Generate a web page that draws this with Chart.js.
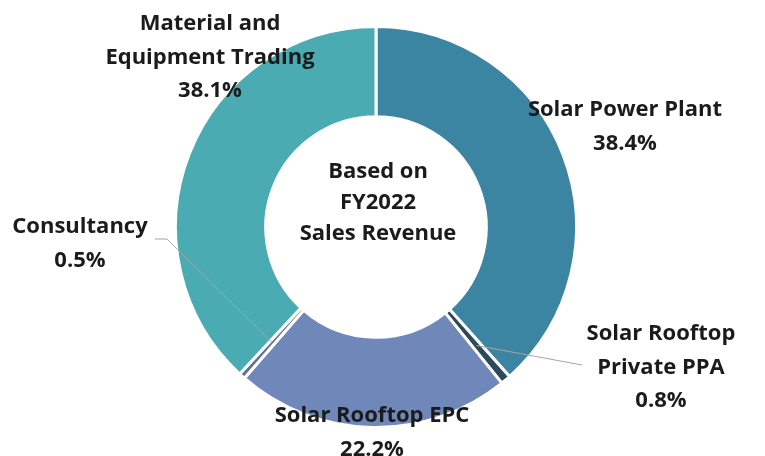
<!DOCTYPE html>
<html>
<head>
<meta charset="utf-8">
<script src="https://cdn.jsdelivr.net/npm/chart.js@4/dist/chart.umd.min.js"></script>
<style>
  body { margin: 0; background: #ffffff; }
  #wrap { width: 765px; height: 456px; position: relative; }
</style>
</head>
<body>
<div id="wrap"><canvas id="revenue-chart"></canvas></div>
<script>
const segments = ["Solar Power Plant", "Solar Rooftop Private PPA", "Solar Rooftop EPC", "Consultancy", "Material and Equipment Trading"];
const shares = [38.4, 0.8, 22.2, 0.5, 38.1];
const labelLines = [
    ["Solar Power Plant"],
    ["Solar Rooftop", "Private PPA"],
    ["Solar Rooftop EPC"],
    ["Consultancy"],
    ["Material and", "Equipment Trading"]
];
const centerLines = ["Based on", "FY2022", "Sales Revenue"];
const colors = ["#3b85a2", "#2c4a5b", "#6f88b9", "#63708f", "#4aabb2"];

// label anchor (top line centre) relative to the chart centre
const labelOffsets = [[249, -117], [285, 107], [-4, 189], [-296, 0], [-166, -203]];
const lineGap = 33.5;
const textFont = "bold 22px 'Open Sans'";

document.addEventListener("DOMContentLoaded", function() {
    const ctx = document.getElementById("revenue-chart").getContext("2d");

    const labelPlugin = {
        id: "labels",
        afterDatasetsDraw(chart) {
            const c = chart.ctx;
            const arcs = chart.getDatasetMeta(0).data;
            const cx = arcs[0].x, cy = arcs[0].y;

            // leader lines for the two thin slices
            c.save();
            c.strokeStyle = "#a6a6a6";
            c.lineWidth = 1;
            const ppa = arcs[1].getCenterPoint();
            c.beginPath();
            c.moveTo(ppa.x, ppa.y);
            c.lineTo(cx + 206, cy + 138);
            c.stroke();
            const con = arcs[3].getCenterPoint();
            c.beginPath();
            c.moveTo(con.x, con.y);
            c.lineTo(cx - 209, cy + 12);
            c.lineTo(cx - 221, cy + 12);
            c.stroke();
            c.restore();

            c.save();
            c.fillStyle = "#1b1b1b";
            c.font = textFont;
            c.textAlign = "center";
            c.textBaseline = "middle";
            labelLines.forEach(function(lines, i) {
                const x = cx + labelOffsets[i][0];
                let y = cy + labelOffsets[i][1];
                lines.concat([shares[i].toFixed(1) + "%"]).forEach(function(t) {
                    c.fillText(t, x, y);
                    y += lineGap;
                });
            });
            let y = cy - 55;
            centerLines.forEach(function(t) {
                c.fillText(t, cx + 2, y);
                y += 31;
            });
            c.restore();
        }
    };

    new Chart(ctx, {
        type: "doughnut",
        data: {
            labels: segments,
            datasets: [{
                data: shares,
                backgroundColor: colors,
                borderColor: "#ffffff",
                borderWidth: 3,
                hoverOffset: 0
            }]
        },
        options: {
            responsive: true,
            maintainAspectRatio: false,
            animation: false,
            cutout: "55%",
            layout: { padding: { top: 25, bottom: 27, left: 0, right: 13 } },
            plugins: {
                legend: { display: false },
                tooltip: { enabled: false }
            }
        },
        plugins: [labelPlugin]
    });
});
</script>
</body>
</html>
